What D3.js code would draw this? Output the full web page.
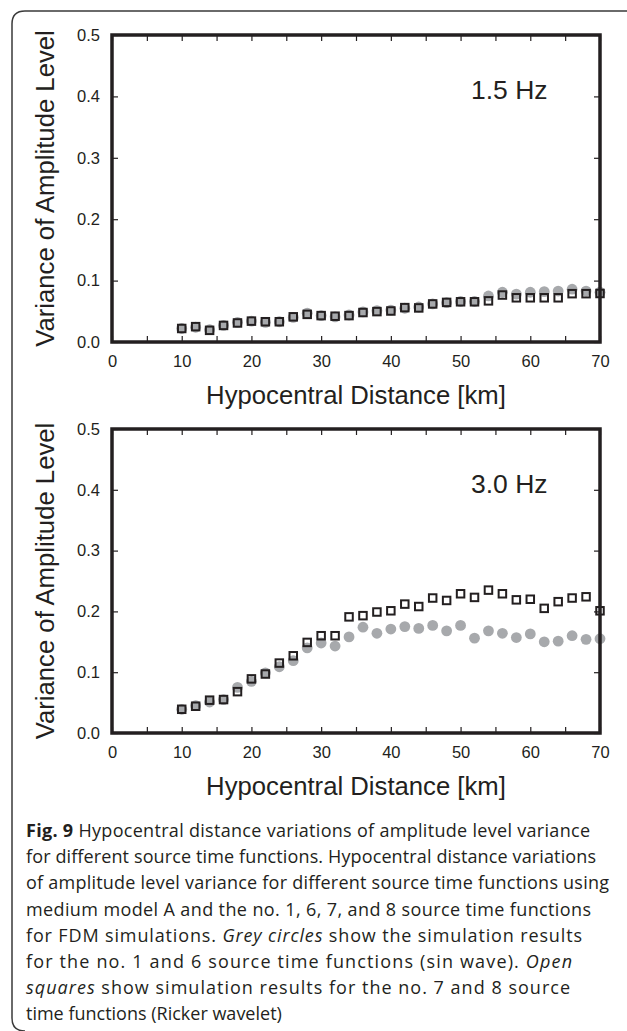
<!DOCTYPE html>
<html>
<head>
<meta charset="utf-8">
<script src="https://cdn.jsdelivr.net/npm/d3@7"></script>
<style>
  body { margin: 0; background: #fff; }
  svg { display: block; }
  .tick-label { font-family: 'Liberation Sans', Arial, sans-serif; font-size: 16.5px; fill: #231f20; }
  .axis-title { font-family: 'Liberation Sans', Arial, sans-serif; font-size: 25.7px; fill: #231f20; }
  .caption { font-family: 'Open Sans', sans-serif; font-size: 18px; fill: #231f20; }
</style>
</head>
<body>
<svg id="figure"></svg>
<script>
// distances sampled every 2 km
const distances = [10, 12, 14, 16, 18, 20, 22, 24, 26, 28, 30, 32, 34, 36, 38, 40,
  42, 44, 46, 48, 50, 52, 54, 56, 58, 60, 62, 64, 66, 68, 70];

// 1.5 Hz panel
const circles15 = [0.022, 0.024, 0.020, 0.027, 0.032, 0.034, 0.032, 0.033, 0.040, 0.047, 0.043,
  0.041, 0.044, 0.049, 0.051, 0.052, 0.055, 0.057, 0.062, 0.064, 0.066, 0.066, 0.075, 0.081,
  0.078, 0.081, 0.082, 0.083, 0.086, 0.083, 0.081];
const squares15 = [0.022, 0.025, 0.019, 0.027, 0.031, 0.034, 0.033, 0.033, 0.041, 0.045, 0.043,
  0.042, 0.043, 0.048, 0.0495, 0.0505, 0.056, 0.0555, 0.062, 0.0645, 0.0655, 0.0655, 0.067, 0.0765,
  0.072, 0.072, 0.072, 0.072, 0.0787, 0.0787, 0.079];

// 3.0 Hz panel
const circles30 = [0.039, 0.045, 0.051, 0.055, 0.075, 0.085, 0.099, 0.109, 0.119, 0.140, 0.148,
  0.143, 0.158, 0.174, 0.164, 0.171, 0.175, 0.172, 0.177, 0.168, 0.177, 0.156, 0.168, 0.164,
  0.157, 0.163, 0.150, 0.151, 0.160, 0.154, 0.155];
const squares30 = [0.039, 0.044, 0.054, 0.055, 0.068, 0.089, 0.097, 0.115, 0.127, 0.149, 0.160,
  0.160, 0.191, 0.193, 0.199, 0.201, 0.212, 0.208, 0.222, 0.218, 0.229, 0.223, 0.235, 0.229,
  0.219, 0.220, 0.205, 0.216, 0.222, 0.224, 0.201];

const xTicks = [0, 5, 10, 15, 20, 25, 30, 35, 40, 45, 50, 55, 60, 65, 70];
const xTickLabels = [0, 10, 20, 30, 40, 50, 60, 70];
const yTicks = [0, 0.1, 0.2, 0.3, 0.4, 0.5];

const xTitle = 'Hypocentral Distance [km]';
const yTitle = 'Variance of Amplitude Level';

const captionLines = [
  [['Fig. 9', 'bold'], [' Hypocentral distance variations of amplitude level variance', '']],
  [['for different source time functions. Hypocentral distance variations', '']],
  [['of amplitude level variance for different source time functions using', '']],
  [['medium model A and the no. 1, 6, 7, and 8 source time functions', '']],
  [['for FDM simulations. ', ''], ['Grey circles', 'italic'], [' show the simulation results', '']],
  [['for the no. 1 and 6 source time functions (sin wave). ', ''], ['Open', 'italic']],
  [['squares', 'italic'], [' show simulation results for the no. 7 and 8 source', '']],
  [['time functions (Ricker wavelet)', '']],
];
const captionWidths = [564, 570, 583, 565, 556, 546, 544, null];

class VariancePanel {
  constructor(_config, _data) {
    this.config = {
      svg: _config.svg,
      left: 112,
      top: _config.top,
      width: 488,
      height: _config.height,
      label: _config.label,
    };
    this.data = _data;
    this.initVis();
  }

  initVis() {
    const vis = this;
    const c = vis.config;

    vis.xScale = d3.scaleLinear().domain([0, 70]).range([0, c.width]);
    vis.yScale = d3.scaleLinear().domain([0, 0.5]).range([c.height, 0]);

    vis.g = c.svg.append('g')
      .attr('transform', `translate(${c.left},${c.top})`);

    vis.renderVis();
  }

  renderVis() {
    const vis = this;
    const c = vis.config;
    const ink = '#231f20';

    // inward ticks on all four sides
    const addTicks = (axis, transform) => {
      vis.g.append('g')
        .attr('transform', transform)
        .call(axis.tickSizeOuter(0).tickFormat(''))
        .call((g) => g.select('.domain').remove())
        .selectAll('.tick line')
        .attr('stroke', ink)
        .attr('stroke-width', 1.2);
    };
    addTicks(d3.axisBottom(vis.xScale).tickValues(xTicks).tickSize(-6), `translate(0,${c.height})`);
    addTicks(d3.axisTop(vis.xScale).tickValues(xTicks).tickSize(-6), 'translate(0,0)');
    addTicks(d3.axisLeft(vis.yScale).tickValues(yTicks).tickSize(-6), 'translate(0,0)');
    addTicks(d3.axisRight(vis.yScale).tickValues(yTicks).tickSize(-6), `translate(${c.width},0)`);

    // tick labels
    vis.g.append('g')
      .attr('transform', `translate(0,${c.height})`)
      .call(d3.axisBottom(vis.xScale).tickValues(xTickLabels).tickSize(0).tickPadding(13)
        .tickFormat(d3.format('d')))
      .call((g) => g.select('.domain').remove())
      .selectAll('text')
      .attr('class', 'tick-label')
      .attr('fill', ink);

    vis.g.append('g')
      .call(d3.axisLeft(vis.yScale).tickValues(yTicks).tickSize(0).tickPadding(12)
        .tickFormat(d3.format('.1f')))
      .call((g) => g.select('.domain').remove())
      .selectAll('text')
      .attr('class', 'tick-label')
      .attr('fill', ink);

    // axis titles
    vis.g.append('text')
      .attr('class', 'axis-title')
      .attr('x', c.width / 2)
      .attr('y', c.height + 62)
      .attr('text-anchor', 'middle')
      .text(xTitle);

    vis.g.append('text')
      .attr('class', 'axis-title')
      .attr('transform', `translate(${-c.left + 54},${c.height / 2}) rotate(-90)`)
      .attr('text-anchor', 'middle')
      .text(yTitle);

    // grey circles (sin wave)
    vis.g.append('g')
      .selectAll('circle')
      .data(distances.map((d, i) => ({ x: d, y: vis.data.circles[i] })))
      .join('circle')
      .attr('cx', (d) => vis.xScale(d.x))
      .attr('cy', (d) => vis.yScale(d.y))
      .attr('r', 5.4)
      .attr('fill', '#a7a9ac');

    // open squares (Ricker wavelet), unfilled so circles show through
    const size = 7.5;
    vis.g.append('g')
      .selectAll('rect')
      .data(distances.map((d, i) => ({ x: d, y: vis.data.squares[i] })))
      .join('rect')
      .attr('x', (d) => vis.xScale(d.x) - size / 2)
      .attr('y', (d) => vis.yScale(d.y) - size / 2)
      .attr('width', size)
      .attr('height', size)
      .attr('fill', 'none')
      .attr('stroke', ink)
      .attr('stroke-width', 2);

    // frequency label
    vis.g.append('text')
      .attr('class', 'axis-title')
      .style('font-size', '26.5px')
      .attr('x', vis.xScale(51.5))
      .attr('y', vis.yScale(0.395))
      .text(c.label);

    // frame
    vis.g.append('rect')
      .attr('width', c.width)
      .attr('height', c.height)
      .attr('fill', 'none')
      .attr('stroke', ink)
      .attr('stroke-width', 3.5);
  }
}

const svg = d3.select('#figure')
  .attr('width', 627)
  .attr('height', 1031);

// figure box (open on the right)
svg.append('path')
  .attr('d', 'M627,11 H25 Q12,11 12,24 V1018 Q12,1031 25,1031')
  .attr('fill', 'none')
  .attr('stroke', '#3a3a3a')
  .attr('stroke-width', 1.5);

new VariancePanel({ svg, top: 35, height: 307, label: '1.5 Hz' },
  { circles: circles15, squares: squares15 });
new VariancePanel({ svg, top: 429, height: 304, label: '3.0 Hz' },
  { circles: circles30, squares: squares30 });

// caption
const caption = svg.append('g').attr('class', 'caption');
captionLines.forEach((line, i) => {
  const t = caption.append('text')
    .attr('x', 26)
    .attr('y', 837 + i * 26.2);
  if (captionWidths[i]) {
    t.attr('textLength', captionWidths[i]).attr('lengthAdjust', 'spacing');
  }
  line.forEach(([txt, style]) => {
    t.append('tspan')
      .attr('font-weight', style === 'bold' ? 700 : null)
      .attr('font-style', style === 'italic' ? 'italic' : null)
      .text(txt);
  });
});
</script>
</body>
</html>
